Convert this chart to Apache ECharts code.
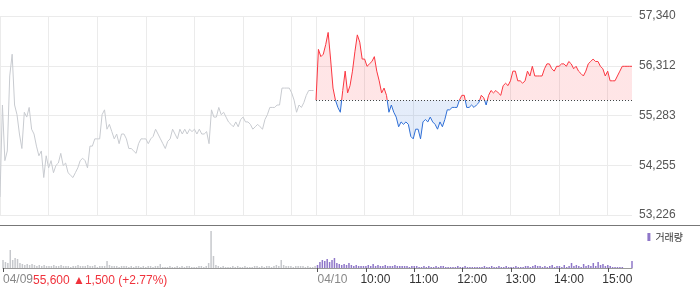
<!DOCTYPE html>
<html><head><meta charset="utf-8">
<script src="https://cdn.jsdelivr.net/npm/echarts@6/dist/echarts.min.js"></script>
<style>html,body{margin:0;padding:0;background:#fff}#c{width:700px;height:289px}</style>
</head><body><div id="c"></div>
<script>
// ---- data ----
const dates = ['04/09', '04/10'];
const hourLabels = ['10:00', '11:00', '12:00', '13:00', '14:00', '15:00'];
const baseline = 55600;
const yMin = 53226, yMax = 57340;
const summaryText = '55,600 ▲1,500 (+2.77%)';
const volumeName = '거래량';

// 3-minute samples, 09:00 onwards
const day1Price = [53600,55500,54350,54550,56100,56550,55500,55300,54900,54600,
55350,55250,55450,55000,54900,54650,54450,54550,54000,54450,
54200,54350,54100,54250,54300,54500,54250,54300,54100,54050,
54000,54100,54200,54350,54400,54350,54200,54650,54650,54800,
54800,54800,55300,55400,55000,55100,54950,54800,54900,54700,
54900,54900,54800,54600,54600,54550,54500,54700,54800,54800,
54800,54700,54800,54850,55000,54900,54800,54700,54600,54750,
54800,55000,54900,54800,55000,54900,55000,54900,55000,54950,
55000,54900,55000,54900,54900,54950,54700,55400,55250,55250,
55450,55300,55350,55250,55150,55100,55050,55150,55050,55200,
55250,55150,55150,55100,55000,55050,55100,55050,55000,55200,
55300,55450,55450,55450,55500,55500,55850,55850,55850,55850,
55750,55600,55350,55500,55450,55550,55700,55800,55800,55800];

const day2Price = [55600,56650,56500,56550,56750,57000,56450,55850,55600,55450,
55350,55800,56200,55750,55900,56200,56600,56950,56800,56450,
56450,56300,56350,56400,56500,56200,56000,55750,55850,55700,
55350,55500,55350,55250,55050,55150,55100,55150,55100,54850,
54800,55000,55000,54800,55150,55200,55150,55250,55150,55100,
55000,55150,55050,55200,55400,55400,55450,55450,55450,55600,
55700,55700,55450,55450,55500,55450,55500,55550,55700,55650,
55500,55700,55800,55750,55800,55750,55700,55900,55950,55900,
56000,56200,56200,56000,56000,55950,56000,56200,56100,56300,
56100,56100,56100,56100,56250,56350,56350,56250,56200,56300,
56300,56350,56350,56300,56400,56350,56250,56300,56200,56150,
56100,56200,56350,56400,56450,56400,56400,56300,56250,56100,
56200,56000,56000,56000,56100,56200,56300,56300,56300,56300,
56300];

const day1Vol = [80,60,50,180,80,100,90,50,40,30,
40,30,40,30,20,30,20,30,20,20,
20,30,20,20,30,20,20,20,10,20,
20,30,20,20,20,30,20,20,30,10,
20,20,20,70,30,20,20,20,10,20,
20,20,10,20,10,20,20,10,20,10,
20,20,10,20,20,40,10,10,10,20,
10,10,20,10,20,10,20,20,10,10,
10,20,20,10,20,50,370,120,30,20,
10,20,10,10,10,20,10,20,10,10,
20,10,10,10,20,20,10,20,10,20,
20,10,20,30,20,80,30,20,20,20,
10,20,20,20,20,10,20,10,10,20];

const day2Vol = [30,60,80,70,90,60,80,100,50,40,
30,40,30,50,30,20,30,20,20,20,
20,30,20,40,20,30,20,20,30,20,
20,20,30,20,20,20,20,20,10,20,
20,20,10,10,20,10,20,10,10,20,
10,20,20,10,10,10,10,10,20,10,
10,20,10,10,10,10,10,10,10,20,
10,10,20,10,10,20,10,10,20,10,
10,10,20,10,10,10,20,20,10,20,
30,20,20,10,20,10,20,30,10,20,
20,10,30,10,20,50,20,30,20,10,
40,20,30,20,50,20,60,30,40,20,
30,20,10,10,10,10,10,0,0,0,
70];

// ---- categories ----
function hhmm(m){const h=Math.floor(m/60),mm=m%60;return (h<10?'0':'')+h+':'+(mm<10?'0':'')+mm;}
const cats=[], catDate=[], catTime=[];
[day1Price, day2Price].forEach(function(arr, d){
  for(let k=0;k<arr.length;k++){const t=hhmm(540+3*k);cats.push(dates[d]+' '+t);catDate.push(dates[d]);catTime.push(t);}
});
const n1 = day1Price.length, n2 = day2Price.length;
const nulls = n => new Array(n).fill(null);

const isGrid = i => catTime[i].slice(3) === '00';
const isTick = i => catTime[i] === '09:00' || (catDate[i] === dates[1] && hourLabels.indexOf(catTime[i]) >= 0);

const FONT = 'Liberation Sans, Arial, sans-serif';
const chart = echarts.init(document.getElementById('c'));
chart.setOption({
  animation: false,
  textStyle: {fontFamily: FONT},
  grid: [
    {left: 0, right: 68, top: 16, height: 199},
    {left: 0, right: 68, top: 226, height: 42}
  ],
  legend: {
    data: [volumeName], right: 17, top: 232, padding: 0,
    icon: 'rect', itemWidth: 3, itemHeight: 8,
    textStyle: {fontSize: 10, color: '#333', fontFamily: 'Noto Sans CJK KR'}
  },
  visualMap: [{
    type: 'piecewise', show: false, seriesIndex: 1, dimension: 1,
    pieces: [{gte: 40000, lt: baseline, color: '#2f6fd6'}, {gte: baseline, lte: 70000, color: '#fb3640'}]
  }],
  xAxis: [
    {gridIndex: 0, type: 'category', data: cats, boundaryGap: false,
     axisLine: {show: false}, axisTick: {show: false}, axisLabel: {show: false},
     splitLine: {show: true, interval: isGrid, lineStyle: {color: '#ebebeb', width: 1}}},
    {gridIndex: 1, type: 'category', data: cats, boundaryGap: false,
     axisLine: {show: true, lineStyle: {color: '#999', width: 1}},
     axisTick: {show: true, interval: isTick, length: 4, lineStyle: {color: '#555'}},
     axisLabel: {
       interval: isTick, margin: 6, fontSize: 12, align: 'center',
       formatter: function(v, i){
         const p = v.split(' ');
         if (p[1] === '09:00') return '{d|' + p[0] + '}';
         return '{h|' + p[1] + '}';
       },
       rich: {
         d: {color: '#888', fontSize: 12, fontFamily: FONT, padding: [0, 0, 0, 30]},
         h: {color: '#333', fontSize: 12, fontFamily: FONT, padding: [0, 0, 0, 19]}
       }
     },
     splitLine: {show: false}}
  ],
  yAxis: [
    {gridIndex: 0, type: 'value', position: 'right', min: yMin, max: yMax, interval: (yMax - yMin) / 4,
     axisLine: {show: false}, axisTick: {show: false},
     axisLabel: {color: '#555', fontSize: 12, margin: 7, formatter: v => Math.round(v).toLocaleString('en-US')},
     splitLine: {show: true, lineStyle: {color: '#ebebeb', width: 1}}},
    {gridIndex: 1, type: 'value', min: 0, max: 420, show: false, splitLine: {show: false}}
  ],
  series: [
    {type: 'line', xAxisIndex: 0, yAxisIndex: 0, data: day1Price.concat(nulls(n2)),
     symbol: 'none', silent: true, lineStyle: {color: '#c8cbd0', width: 1}, itemStyle: {color: '#c8cbd0'}},
    {type: 'line', xAxisIndex: 0, yAxisIndex: 0, data: nulls(n1).concat(day2Price),
     symbol: 'none', silent: true, lineStyle: {width: 1}, areaStyle: {origin: baseline, opacity: 0.13},
     markLine: {silent: true, symbol: 'none', label: {show: false},
       lineStyle: {type: [1, 2], color: '#444', width: 1},
       data: [[{coord: [cats[n1], baseline]}, {coord: [cats[n1 + n2 - 1], baseline]}]]}},
    {type: 'bar', xAxisIndex: 1, yAxisIndex: 1, data: day1Vol.concat(nulls(n2)),
     barWidth: 1.5, barGap: '-100%', silent: true, itemStyle: {color: '#c6c8cc'}},
    {type: 'bar', name: volumeName, xAxisIndex: 1, yAxisIndex: 1, data: nulls(n1).concat(day2Vol),
     barWidth: 1.5, barGap: '-100%', silent: true, itemStyle: {color: '#8f77c9'}}
  ],
  graphic: [
    {type: 'line', shape: {x1: 0, y1: 225.5, x2: 700, y2: 225.5}, style: {stroke: '#777', lineWidth: 1}, silent: true},
    {type: 'text', left: 33, top: 275, style: {text: summaryText, fill: '#f0323c', font: '12px ' + FONT}, silent: true}
  ]
});
</script></body></html>
